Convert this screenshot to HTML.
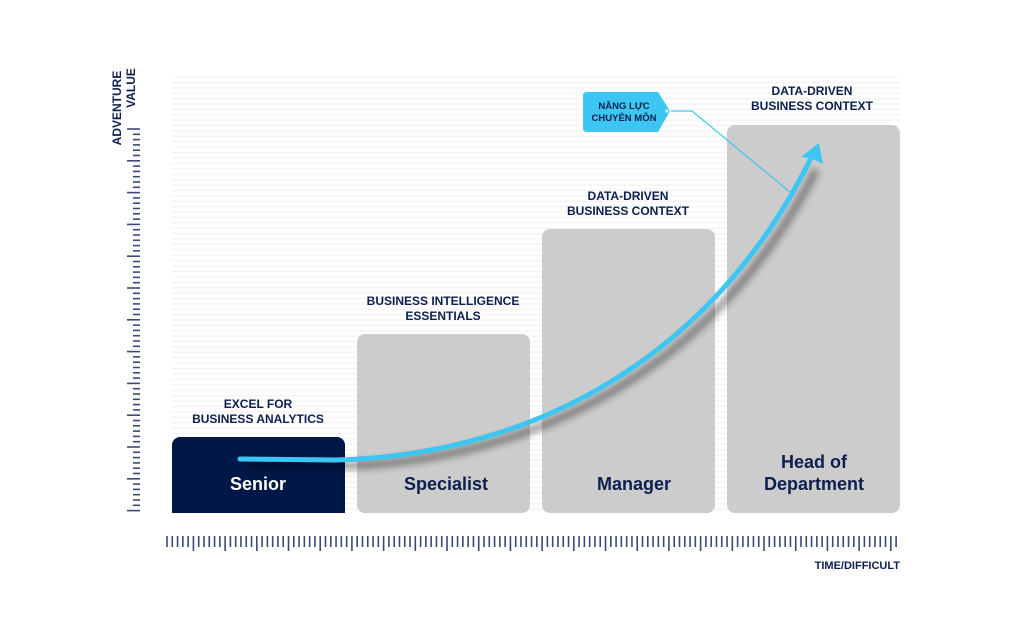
<!DOCTYPE html>
<html><head><meta charset="utf-8"><style>
html,body{margin:0;padding:0;background:#fff;}
body{width:1024px;height:639px;overflow:hidden;font-family:"Liberation Sans",sans-serif;}
</style></head><body>
<svg id="s" width="1024" height="639" viewBox="0 0 1024 639" xmlns="http://www.w3.org/2000/svg">
<defs>
<filter id="sh" x="-20%" y="-20%" width="140%" height="140%"><feGaussianBlur stdDeviation="4"/></filter>
</defs>
<g id="grid"></g>
<g id="ticks" stroke="#3a4a75" stroke-width="1.6"></g>
<rect x="172" y="437" width="173" height="76" rx="8" fill="#001848"/>
<rect x="172" y="490" width="173" height="23" fill="#001848"/>
<rect x="357" y="334" width="173" height="179" rx="8" fill="#cccccc"/>
<rect x="542" y="229" width="173" height="284" rx="8" fill="#cccccc"/>
<rect x="727" y="125" width="173" height="388" rx="8" fill="#cccccc"/>
<g font-weight="bold" fill="#0d1f4f" text-anchor="middle" font-size="12">
<text x="258" y="408">EXCEL FOR</text><text x="258" y="423">BUSINESS ANALYTICS</text>
<text x="443" y="305">BUSINESS INTELLIGENCE</text><text x="443" y="320">ESSENTIALS</text>
<text x="628" y="200">DATA-DRIVEN</text><text x="628" y="215">BUSINESS CONTEXT</text>
<text x="812" y="95">DATA-DRIVEN</text><text x="812" y="110">BUSINESS CONTEXT</text>
<text x="900" y="569" font-size="11" text-anchor="end">TIME/DIFFICULT</text>
<text transform="translate(121,108) rotate(-90)" font-size="12">ADVENTURE</text>
<text transform="translate(135,88) rotate(-90)" font-size="12">VALUE</text>
</g>
<g font-weight="bold" text-anchor="middle" font-size="18">
<text x="258" y="490" fill="#fff">Senior</text>
<text x="446" y="490" fill="#0d1f4f">Specialist</text>
<text x="634" y="490" fill="#0d1f4f">Manager</text>
<text x="814" y="468" fill="#0d1f4f">Head of</text>
<text x="814" y="490" fill="#0d1f4f">Department</text>
</g>
<path d="M246,466 L340,466 C520,462 710,380 816,170" fill="none" stroke="#000" stroke-opacity="0.5" stroke-width="6" filter="url(#sh)"/>
<path d="M240,459 L335,460 C515,456 705,372 811,158" fill="none" stroke="#3ec6f2" stroke-width="5" stroke-linecap="round"/>
<polygon points="819,143 823,164 811,158 801,157" fill="#3ec6f2"/>
<polyline points="671,111 692,111 790,192" fill="none" stroke="#3ec6f2" stroke-width="1.2"/>
<path d="M587,92 L658,92 L670,111 L658,132 L587,132 Q583,132 583,128 L583,96 Q583,92 587,92 Z" fill="#3ec6f2"/>
<circle cx="667" cy="111" r="1.5" fill="#fff"/>
<g font-weight="bold" fill="#0d1f4f" text-anchor="middle" font-size="9.5">
<text x="624" y="109">NĂNG LỰC</text><text x="624" y="121">CHUYÊN MÔN</text>
</g>
</svg>
<script>
var ns="http://www.w3.org/2000/svg",g=document.getElementById('grid'),t=document.getElementById('ticks');
function L(p,a,b,c,d,col,w){var l=document.createElementNS(ns,'line');l.setAttribute('x1',a);l.setAttribute('y1',b);l.setAttribute('x2',c);l.setAttribute('y2',d);if(col)l.setAttribute('stroke',col);if(w)l.setAttribute('stroke-width',w);p.appendChild(l);}
for(var y=77;y<512;y+=5.4)L(g,172,y,900,y,'#f2f2f2',1.2);
var i=0;for(var y=129;y<=512;y+=5.3){var m=(i%6==0);L(t,m?127:133,y,140,y);i++;}
i=0;var st=31.7/6;for(var x=167;x<=901;x+=st){var m=((i-5)%6==0&&i>=5);L(t,x,536,x,m?551:547);i++;}
</script>
</body></html>
